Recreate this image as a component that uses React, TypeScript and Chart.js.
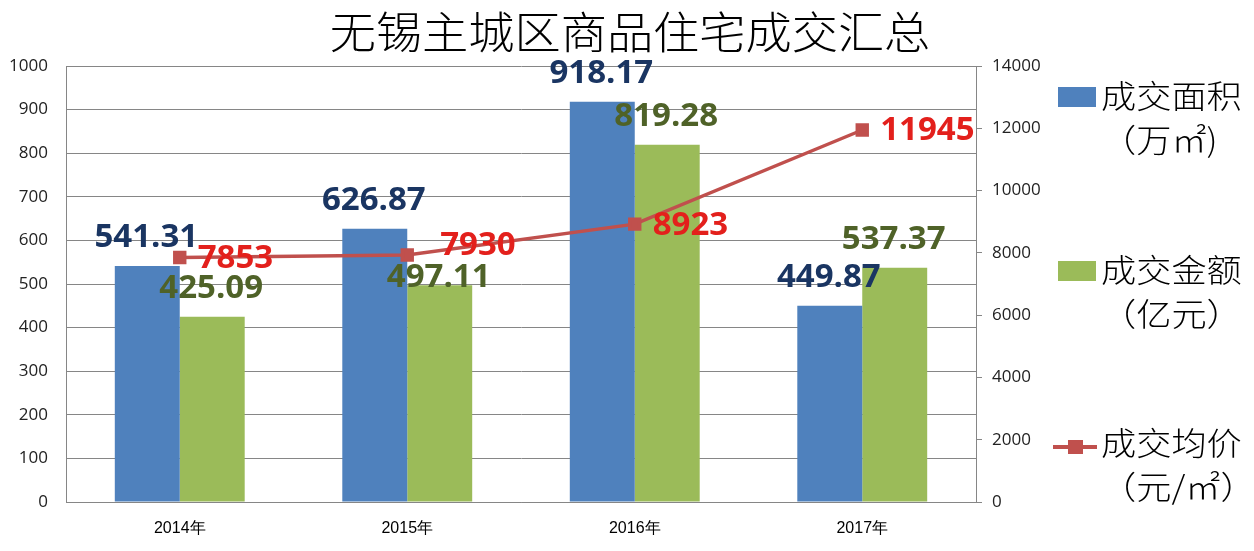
import React, { useEffect, useRef } from "react";
import { Chart, registerables } from "chart.js";

Chart.register(...registerables);

const categories = ["2014年", "2015年", "2016年", "2017年"];
const areaValues = [541.31, 626.87, 918.17, 449.87];
const amountValues = [425.09, 497.11, 819.28, 537.37];
const priceValues = [7853, 7930, 8923, 11945];
const titleText = "无锡主城区商品住宅成交汇总";
const legendItems = [
  { kind: "bar", color: "#4F81BD", lines: ["成交面积", "（万㎡)"] },
  { kind: "bar", color: "#9BBB59", lines: ["成交金额", "（亿元）"] },
  { kind: "line", color: "#C0504D", lines: ["成交均价", "（元/㎡）"] },
];

const CJK = '"Noto Sans CJK SC", "Noto Sans", sans-serif';
const NUM = '"Open Sans", "Liberation Sans", sans-serif';

// label nudges (dx, dy) for manually placed labels in the original
const labelNudge: Record<string, [number, number]> = {
  "2-1": [0, 21],
  "0-1": [15, -10],
};

const overlayPlugin = {
  id: "overlay",
  afterDatasetsDraw(chart: any) {
    const ctx = chart.ctx;
    ctx.save();
    chart.data.datasets.forEach((ds: any, di: number) => {
      const meta = chart.getDatasetMeta(di);
      meta.data.forEach((el: any, i: number) => {
        const v = ds.data[i];
        const [dx, dy] = labelNudge[`${di}-${i}`] || [0, 0];
        ctx.font = `bold 33px ${NUM}`;
        ctx.fillStyle = ds.labelColor;
        if (ds.type === "line") {
          ctx.textAlign = "left";
          ctx.textBaseline = "middle";
          ctx.fillText(String(v), el.x + 18 + dx, el.y + 1 + dy);
        } else {
          ctx.textAlign = "center";
          ctx.textBaseline = "alphabetic";
          ctx.fillText(v.toFixed(2), el.x - 1 + dx, el.y - 19 + dy);
        }
      });
    });
    ctx.restore();
  },
  afterDraw(chart: any) {
    const ctx = chart.ctx;
    ctx.save();
    ctx.fillStyle = "#000";
    ctx.font = `300 44px ${CJK}`;
    ctx.textAlign = "center";
    ctx.textBaseline = "middle";
    ctx.save();
    ctx.translate(630, 32);
    ctx.scale(1.05, 1);
    ctx.fillText(titleText, 0, 0);
    ctx.restore();
    const tops = [96, 270, 443];
    legendItems.forEach((it, k) => {
      const cy = tops[k];
      if (it.kind === "bar") {
        ctx.fillStyle = it.color;
        ctx.fillRect(1058, cy - 9, 38, 20);
      } else {
        ctx.strokeStyle = it.color;
        ctx.lineWidth = 4;
        ctx.beginPath();
        ctx.moveTo(1053, cy + 4);
        ctx.lineTo(1097, cy + 4);
        ctx.stroke();
        ctx.fillStyle = it.color;
        ctx.fillRect(1068, cy - 3, 15, 14);
      }
      ctx.fillStyle = "#000";
      ctx.font = `300 32px ${CJK}`;
      ctx.textAlign = "left";
      ctx.textBaseline = "middle";
      ctx.save();
      ctx.translate(1101, cy);
      ctx.scale(1.1, 1);
      ctx.fillText(it.lines[0], 0, 0);
      ctx.fillText(it.lines[1], 0, 44);
      ctx.restore();
    });
    ctx.restore();
  },
};

export default function App() {
  const ref = useRef<HTMLCanvasElement | null>(null);
  useEffect(() => {
    document.body.style.margin = "0";
    const chart = new Chart(ref.current as HTMLCanvasElement, {
      type: "bar",
      data: {
        labels: categories,
        datasets: [
          {
            type: "line",
            label: "成交均价（元/㎡）",
            data: priceValues,
            yAxisID: "y1",
            borderColor: "#C0504D",
            backgroundColor: "#C0504D",
            borderWidth: 3.5,
            pointStyle: "rect",
            pointRadius: 7,
            pointBackgroundColor: "#C0504D",
            pointBorderColor: "#C0504D",
            order: 0,
            labelColor: "#E3201C",
          } as any,
          {
            type: "bar",
            label: "成交面积（万㎡)",
            data: areaValues,
            yAxisID: "y",
            backgroundColor: "#4F81BD",
            categoryPercentage: 0.571,
            barPercentage: 1,
            order: 1,
            labelColor: "#1A3562",
          } as any,
          {
            type: "bar",
            label: "成交金额（亿元）",
            data: amountValues,
            yAxisID: "y",
            backgroundColor: "#9BBB59",
            categoryPercentage: 0.571,
            barPercentage: 1,
            order: 1,
            labelColor: "#4F6228",
          } as any,
        ],
      },
      options: {
        animation: false,
        responsive: false,
        maintainAspectRatio: false,
        layout: { padding: { top: 66, right: 198, bottom: 0, left: 0 } },
        plugins: {
          legend: { display: false },
          title: { display: false },
          tooltip: { enabled: false },
        },
        scales: {
          x: {
            grid: { display: false, drawTicks: false },
            border: { display: true, color: "#868686", width: 1 },
            ticks: {
              padding: 17,
              color: "#000",
              font: { family: '"Liberation Sans", sans-serif', size: 16 },
            },
            afterFit(s: any) {
              s.height = 49;
            },
          },
          y: {
            position: "left",
            min: 0,
            max: 1000,
            ticks: {
              stepSize: 100,
              padding: 18,
              color: "#222",
              font: { family: NUM, size: 17 },
              callback: (v: any) => String(v),
            },
            grid: { color: "#868686", drawTicks: false, lineWidth: 1 },
            border: { display: true, color: "#868686" },
            afterFit(s: any) {
              s.width = 66;
            },
          },
          y1: {
            position: "right",
            min: 0,
            max: 14000,
            ticks: {
              stepSize: 2000,
              padding: 10,
              color: "#222",
              font: { family: NUM, size: 17 },
              callback: (v: any) => String(v),
            },
            grid: {
              drawOnChartArea: false,
              drawTicks: true,
              tickLength: 6,
              color: "#868686",
            },
            border: { display: true, color: "#868686" },
            afterFit(s: any) {
              s.width = 80;
            },
          },
        },
      },
      plugins: [overlayPlugin],
    });
    return () => chart.destroy();
  }, []);
  return (
    <div style={{ position: "relative", width: 1254, height: 551, background: "#fff" }}>
      <canvas ref={ref} width={1254} height={551} style={{ display: "block" }} />
    </div>
  );
}
